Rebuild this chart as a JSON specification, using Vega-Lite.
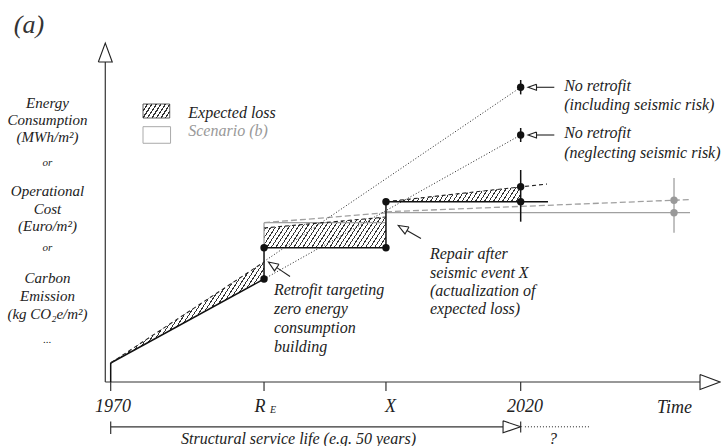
{
"$schema": "https://vega.github.io/schema/vega-lite/v6.json",
"width": 721, "height": 446, "padding": 0, "autosize": {"type": "none"},
"background": "white",
"config": {"view": {"stroke": null}},
"datasets": {
"lossA": [{"t":1970,"v":4.75,"v2":4.75},{"t":1988.7,"v":25.75,"v2":30.0}],
"lossB": [{"t":1988.7,"v":33.58,"v2":38.5},{"t":2003.57,"v":33.58,"v2":41.25}],
"lossC": [{"t":2003.57,"v":45.08,"v2":45.08},{"t":2020,"v":45.08,"v2":48.83}],
"legendHatch": [{"t":1973.94,"t2":1977.2,"v":66,"v2":69.5}],
"legendScenario": [{"t":1973.94,"t2":1977.3,"v":59.68,"v2":63.83}],
"axisLines": [
{"t":1969.34,"v":0,"t2":1969.34,"v2":80},
{"t":1969.34,"v":0,"t2":2041.87,"v2":0},
{"t":1970,"v":-2.25,"t2":1970,"v2":0},
{"t":1988.7,"v":-2.25,"t2":1988.7,"v2":0},
{"t":2003.57,"v":-2.25,"t2":2003.57,"v2":0},
{"t":2020,"v":-2.25,"t2":2020,"v2":0},
{"t":1970,"v":-11.2,"t2":2017.85,"v2":-11.2},
{"t":1970,"v":-9.9,"t2":1970,"v2":-13},
{"t":2020,"v":-9.9,"t2":2020,"v2":-12.6}
],
"curveSolid": [
{"t":1970,"v":0,"t2":1970,"v2":4.75},
{"t":1970,"v":4.75,"t2":1988.7,"v2":25.75},
{"t":1988.7,"v":25.75,"t2":1988.7,"v2":33.58},
{"t":1988.7,"v":33.58,"t2":2003.57,"v2":33.58},
{"t":2003.57,"v":33.58,"t2":2003.57,"v2":45.08},
{"t":2003.57,"v":45.08,"t2":2023.33,"v2":45.08},
{"t":2020,"v":40.08,"t2":2020,"v2":53},
{"t":2020,"v":71.9,"t2":2020,"v2":75.5},
{"t":2020,"v":60,"t2":2020,"v2":63.5}
],
"pointers": [
{"t":2021.93,"v":73.68,"t2":2024.1,"v2":73.68},
{"t":2021.93,"v":61.75,"t2":2024.1,"v2":61.75},
{"t":1990.26,"v":28.6,"t2":1991.87,"v2":26.375},
{"t":2006.13,"v":37.875,"t2":2007.84,"v2":35.875}
],
"curveDashed": [
{"t":1970,"v":4.75,"t2":1988.7,"v2":30.0},
{"t":1988.7,"v":38.5,"t2":2003.57,"v2":41.25},
{"t":2003.57,"v":45.08,"t2":2023.21,"v2":49.5}
],
"dotted": [
{"t":1988.7,"v":30.13,"t2":2020,"v2":73.68},
{"t":1988.7,"v":25.75,"t2":2020,"v2":61.75},
{"t":2020.52,"v":-11.2,"t2":2028.45,"v2":-11.2}
],
"scenarioSolid": [
{"t":2003.57,"v":42.33,"t2":2040.65,"v2":42.33},
{"t":2038.7,"v":37.33,"t2":2038.7,"v2":51},
{"t":1988.7,"v":33.58,"t2":1988.7,"v2":39.83},
{"t":1988.7,"v":39.83,"t2":2003.57,"v2":39.83}
],
"scenarioDashed": [
{"t":2003.57,"v":42.55,"t2":2040.65,"v2":45.6},
{"t":1988.7,"v":39.83,"t2":2003.57,"v2":42.3}
],
"arrowheads": [
{"id":"y","i":1,"t":1968.49,"v":80},{"id":"y","i":2,"t":1969.34,"v":84.75},{"id":"y","i":3,"t":1970.19,"v":80},{"id":"y","i":4,"t":1968.49,"v":80},
{"id":"x","i":1,"t":2041.87,"v":1.875},{"id":"x","i":2,"t":2044.31,"v":0},{"id":"x","i":3,"t":2041.87,"v":-1.875},{"id":"x","i":4,"t":2041.87,"v":1.875},
{"id":"s","i":1,"t":2017.85,"v":-9.7},{"id":"s","i":2,"t":2020,"v":-11.2},{"id":"s","i":3,"t":2017.85,"v":-12.7},{"id":"s","i":4,"t":2017.85,"v":-9.7},
{"id":"n1","i":1,"t":2021.93,"v":74.43},{"id":"n1","i":2,"t":2020.9,"v":73.68},{"id":"n1","i":3,"t":2021.93,"v":72.93},{"id":"n1","i":4,"t":2021.93,"v":74.43},
{"id":"n2","i":1,"t":2021.93,"v":62.5},{"id":"n2","i":2,"t":2020.9,"v":61.75},{"id":"n2","i":3,"t":2021.93,"v":61.0},{"id":"n2","i":4,"t":2021.93,"v":62.5},
{"id":"r","i":1,"t":1990.53,"v":29.43},{"id":"r","i":2,"t":1989.24,"v":30.0},{"id":"r","i":3,"t":1989.98,"v":27.77},{"id":"r","i":4,"t":1990.53,"v":29.43},
{"id":"p","i":1,"t":2006.38,"v":38.74},{"id":"p","i":2,"t":2005.07,"v":39.125},{"id":"p","i":3,"t":2005.89,"v":37.01},{"id":"p","i":4,"t":2006.38,"v":38.74}
],
"dots": [
{"t":1988.7,"v":25.75},{"t":1988.7,"v":33.58},{"t":2003.57,"v":33.58},{"t":2003.57,"v":45.08},
{"t":2020,"v":45.08},{"t":2020,"v":48.83},{"t":2020,"v":73.68},{"t":2020,"v":61.75}
],
"grayDots": [{"t":2038.7,"v":45.44},{"t":2038.7,"v":42.33}],
"tickLabels": [
{"t":1970.28,"v":-6.17,"label":"1970"},{"t":1988.21,"v":-6.17,"label":"R"},
{"t":2004.12,"v":-6.17,"label":"X"},{"t":2020.52,"v":-6.17,"label":"2020"},
{"t":2038.76,"v":-6.58,"label":"Time"}
],
"tickSub": [{"t":1989.79,"v":-7.0,"label":"E"}],
"yTitle": [
{"t":1962.29,"v":69.68,"label":"Energy"},{"t":1962.29,"v":65.5,"label":"Consumption"},{"t":1962.29,"v":61.33,"label":"(MWh/m²)"},
{"t":1962.29,"v":47.83,"label":"Operational"},{"t":1962.29,"v":43.25,"label":"Cost"},{"t":1962.29,"v":39,"label":"(Euro/m²)"},
{"t":1962.29,"v":25.93,"label":"Carbon"},{"t":1962.29,"v":21.5,"label":"Emission"},{"t":1962.29,"v":17,"label":"(kg CO₂e/m²)"}
],
"yTitleSmall": [
{"t":1962.29,"v":54.68,"label":"or"},{"t":1962.29,"v":33.43,"label":"or"},{"t":1962.29,"v":10.5,"label":"..."}
],
"notes": [
{"t":1989.91,"v":23,"label":"Retrofit targeting"},{"t":1989.91,"v":18.25,"label":"zero energy"},
{"t":1989.91,"v":13.5,"label":"consumption"},{"t":1989.91,"v":8.75,"label":"building"},
{"t":2008.94,"v":32,"label":"Repair after"},{"t":2008.94,"v":27.375,"label":"seismic event X"},
{"t":2008.94,"v":22.75,"label":"(actualization of"},{"t":2008.94,"v":18.25,"label":"expected loss)"},
{"t":2025.3,"v":74,"label":"No retrofit"},{"t":2025.3,"v":69.25,"label":"(including seismic risk)"},
{"t":2025.3,"v":62.18,"label":"No retrofit"},{"t":2025.3,"v":57.33,"label":"(neglecting seismic risk)"},
{"t":1979.46,"v":67.33,"label":"Expected loss"}
],
"scenarioLabel": [{"t":1979.46,"v":62.83,"label":"Scenario (b)"}],
"serviceLabel": [
{"t":1992.9,"v":-14.25,"label":"Structural service life (e.g. 50 years)"},
{"t":2023.94,"v":-14.25,"label":"?"}
],
"panelLabel": [{"t":1960.04,"v":89.25,"label":"(a)"}]
},
"encoding": {
"x": {"field":"t","type":"quantitative","scale":{"domain":[1956.5,2044.43],"nice":false,"zero":false},"axis":null},
"y": {"field":"v","type":"quantitative","scale":{"domain":[-16,95.5],"nice":false,"zero":false},"axis":null}
},
"layer": [
{"data":{"name":"lossA"},
 "mark":{"type":"area","stroke":null,"fill":{"gradient":"linear","x1":0,"y1":0,"x2":1.2402,"y2":0.5311,"stops":[
{"offset":0,"color":"#fff"},
{"offset":0.0175,"color":"#fff"},{"offset":0.0175,"color":"#333"},{"offset":0.0225,"color":"#333"},{"offset":0.0225,"color":"#fff"},
{"offset":0.0375,"color":"#fff"},{"offset":0.0375,"color":"#333"},{"offset":0.0425,"color":"#333"},{"offset":0.0425,"color":"#fff"},
{"offset":0.0575,"color":"#fff"},{"offset":0.0575,"color":"#333"},{"offset":0.0625,"color":"#333"},{"offset":0.0625,"color":"#fff"},
{"offset":0.0775,"color":"#fff"},{"offset":0.0775,"color":"#333"},{"offset":0.0825,"color":"#333"},{"offset":0.0825,"color":"#fff"},
{"offset":0.0975,"color":"#fff"},{"offset":0.0975,"color":"#333"},{"offset":0.1025,"color":"#333"},{"offset":0.1025,"color":"#fff"},
{"offset":0.1175,"color":"#fff"},{"offset":0.1175,"color":"#333"},{"offset":0.1225,"color":"#333"},{"offset":0.1225,"color":"#fff"},
{"offset":0.1375,"color":"#fff"},{"offset":0.1375,"color":"#333"},{"offset":0.1425,"color":"#333"},{"offset":0.1425,"color":"#fff"},
{"offset":0.1575,"color":"#fff"},{"offset":0.1575,"color":"#333"},{"offset":0.1625,"color":"#333"},{"offset":0.1625,"color":"#fff"},
{"offset":0.1775,"color":"#fff"},{"offset":0.1775,"color":"#333"},{"offset":0.1825,"color":"#333"},{"offset":0.1825,"color":"#fff"},
{"offset":0.1975,"color":"#fff"},{"offset":0.1975,"color":"#333"},{"offset":0.2025,"color":"#333"},{"offset":0.2025,"color":"#fff"},
{"offset":0.2175,"color":"#fff"},{"offset":0.2175,"color":"#333"},{"offset":0.2225,"color":"#333"},{"offset":0.2225,"color":"#fff"},
{"offset":0.2375,"color":"#fff"},{"offset":0.2375,"color":"#333"},{"offset":0.2425,"color":"#333"},{"offset":0.2425,"color":"#fff"},
{"offset":0.2575,"color":"#fff"},{"offset":0.2575,"color":"#333"},{"offset":0.2625,"color":"#333"},{"offset":0.2625,"color":"#fff"},
{"offset":0.2775,"color":"#fff"},{"offset":0.2775,"color":"#333"},{"offset":0.2825,"color":"#333"},{"offset":0.2825,"color":"#fff"},
{"offset":0.2975,"color":"#fff"},{"offset":0.2975,"color":"#333"},{"offset":0.3025,"color":"#333"},{"offset":0.3025,"color":"#fff"},
{"offset":0.3175,"color":"#fff"},{"offset":0.3175,"color":"#333"},{"offset":0.3225,"color":"#333"},{"offset":0.3225,"color":"#fff"},
{"offset":0.3375,"color":"#fff"},{"offset":0.3375,"color":"#333"},{"offset":0.3425,"color":"#333"},{"offset":0.3425,"color":"#fff"},
{"offset":0.3575,"color":"#fff"},{"offset":0.3575,"color":"#333"},{"offset":0.3625,"color":"#333"},{"offset":0.3625,"color":"#fff"},
{"offset":0.3775,"color":"#fff"},{"offset":0.3775,"color":"#333"},{"offset":0.3825,"color":"#333"},{"offset":0.3825,"color":"#fff"},
{"offset":0.3975,"color":"#fff"},{"offset":0.3975,"color":"#333"},{"offset":0.4025,"color":"#333"},{"offset":0.4025,"color":"#fff"},
{"offset":0.4175,"color":"#fff"},{"offset":0.4175,"color":"#333"},{"offset":0.4225,"color":"#333"},{"offset":0.4225,"color":"#fff"},
{"offset":0.4375,"color":"#fff"},{"offset":0.4375,"color":"#333"},{"offset":0.4425,"color":"#333"},{"offset":0.4425,"color":"#fff"},
{"offset":0.4575,"color":"#fff"},{"offset":0.4575,"color":"#333"},{"offset":0.4625,"color":"#333"},{"offset":0.4625,"color":"#fff"},
{"offset":0.4775,"color":"#fff"},{"offset":0.4775,"color":"#333"},{"offset":0.4825,"color":"#333"},{"offset":0.4825,"color":"#fff"},
{"offset":0.4975,"color":"#fff"},{"offset":0.4975,"color":"#333"},{"offset":0.5025,"color":"#333"},{"offset":0.5025,"color":"#fff"},
{"offset":0.5175,"color":"#fff"},{"offset":0.5175,"color":"#333"},{"offset":0.5225,"color":"#333"},{"offset":0.5225,"color":"#fff"},
{"offset":0.5375,"color":"#fff"},{"offset":0.5375,"color":"#333"},{"offset":0.5425,"color":"#333"},{"offset":0.5425,"color":"#fff"},
{"offset":0.5575,"color":"#fff"},{"offset":0.5575,"color":"#333"},{"offset":0.5625,"color":"#333"},{"offset":0.5625,"color":"#fff"},
{"offset":0.5775,"color":"#fff"},{"offset":0.5775,"color":"#333"},{"offset":0.5825,"color":"#333"},{"offset":0.5825,"color":"#fff"},
{"offset":0.5975,"color":"#fff"},{"offset":0.5975,"color":"#333"},{"offset":0.6025,"color":"#333"},{"offset":0.6025,"color":"#fff"},
{"offset":0.6175,"color":"#fff"},{"offset":0.6175,"color":"#333"},{"offset":0.6225,"color":"#333"},{"offset":0.6225,"color":"#fff"},
{"offset":0.6375,"color":"#fff"},{"offset":0.6375,"color":"#333"},{"offset":0.6425,"color":"#333"},{"offset":0.6425,"color":"#fff"},
{"offset":0.6575,"color":"#fff"},{"offset":0.6575,"color":"#333"},{"offset":0.6625,"color":"#333"},{"offset":0.6625,"color":"#fff"},
{"offset":0.6775,"color":"#fff"},{"offset":0.6775,"color":"#333"},{"offset":0.6825,"color":"#333"},{"offset":0.6825,"color":"#fff"},
{"offset":0.6975,"color":"#fff"},{"offset":0.6975,"color":"#333"},{"offset":0.7025,"color":"#333"},{"offset":0.7025,"color":"#fff"},
{"offset":0.7175,"color":"#fff"},{"offset":0.7175,"color":"#333"},{"offset":0.7225,"color":"#333"},{"offset":0.7225,"color":"#fff"},
{"offset":0.7375,"color":"#fff"},{"offset":0.7375,"color":"#333"},{"offset":0.7425,"color":"#333"},{"offset":0.7425,"color":"#fff"},
{"offset":0.7575,"color":"#fff"},{"offset":0.7575,"color":"#333"},{"offset":0.7625,"color":"#333"},{"offset":0.7625,"color":"#fff"},
{"offset":0.7775,"color":"#fff"},{"offset":0.7775,"color":"#333"},{"offset":0.7825,"color":"#333"},{"offset":0.7825,"color":"#fff"},
{"offset":0.7975,"color":"#fff"},{"offset":0.7975,"color":"#333"},{"offset":0.8025,"color":"#333"},{"offset":0.8025,"color":"#fff"},
{"offset":0.8175,"color":"#fff"},{"offset":0.8175,"color":"#333"},{"offset":0.8225,"color":"#333"},{"offset":0.8225,"color":"#fff"},
{"offset":0.8375,"color":"#fff"},{"offset":0.8375,"color":"#333"},{"offset":0.8425,"color":"#333"},{"offset":0.8425,"color":"#fff"},
{"offset":0.8575,"color":"#fff"},{"offset":0.8575,"color":"#333"},{"offset":0.8625,"color":"#333"},{"offset":0.8625,"color":"#fff"},
{"offset":0.8775,"color":"#fff"},{"offset":0.8775,"color":"#333"},{"offset":0.8825,"color":"#333"},{"offset":0.8825,"color":"#fff"},
{"offset":0.8975,"color":"#fff"},{"offset":0.8975,"color":"#333"},{"offset":0.9025,"color":"#333"},{"offset":0.9025,"color":"#fff"},
{"offset":0.9175,"color":"#fff"},{"offset":0.9175,"color":"#333"},{"offset":0.9225,"color":"#333"},{"offset":0.9225,"color":"#fff"},
{"offset":0.9375,"color":"#fff"},{"offset":0.9375,"color":"#333"},{"offset":0.9425,"color":"#333"},{"offset":0.9425,"color":"#fff"},
{"offset":0.9575,"color":"#fff"},{"offset":0.9575,"color":"#333"},{"offset":0.9625,"color":"#333"},{"offset":0.9625,"color":"#fff"},
{"offset":0.9775,"color":"#fff"},{"offset":0.9775,"color":"#333"},{"offset":0.9825,"color":"#333"},{"offset":0.9825,"color":"#fff"},
{"offset":1,"color":"#fff"}
]}},
 "encoding":{"y2":{"field":"v2"}}},
{"data":{"name":"lossB"},
 "mark":{"type":"area","stroke":null,"fill":{"gradient":"linear","x1":0,"y1":0,"x2":1.7962,"y2":0.2938,"stops":[
{"offset":0,"color":"#fff"},
{"offset":0.0175,"color":"#fff"},{"offset":0.0175,"color":"#333"},{"offset":0.0225,"color":"#333"},{"offset":0.0225,"color":"#fff"},
{"offset":0.0375,"color":"#fff"},{"offset":0.0375,"color":"#333"},{"offset":0.0425,"color":"#333"},{"offset":0.0425,"color":"#fff"},
{"offset":0.0575,"color":"#fff"},{"offset":0.0575,"color":"#333"},{"offset":0.0625,"color":"#333"},{"offset":0.0625,"color":"#fff"},
{"offset":0.0775,"color":"#fff"},{"offset":0.0775,"color":"#333"},{"offset":0.0825,"color":"#333"},{"offset":0.0825,"color":"#fff"},
{"offset":0.0975,"color":"#fff"},{"offset":0.0975,"color":"#333"},{"offset":0.1025,"color":"#333"},{"offset":0.1025,"color":"#fff"},
{"offset":0.1175,"color":"#fff"},{"offset":0.1175,"color":"#333"},{"offset":0.1225,"color":"#333"},{"offset":0.1225,"color":"#fff"},
{"offset":0.1375,"color":"#fff"},{"offset":0.1375,"color":"#333"},{"offset":0.1425,"color":"#333"},{"offset":0.1425,"color":"#fff"},
{"offset":0.1575,"color":"#fff"},{"offset":0.1575,"color":"#333"},{"offset":0.1625,"color":"#333"},{"offset":0.1625,"color":"#fff"},
{"offset":0.1775,"color":"#fff"},{"offset":0.1775,"color":"#333"},{"offset":0.1825,"color":"#333"},{"offset":0.1825,"color":"#fff"},
{"offset":0.1975,"color":"#fff"},{"offset":0.1975,"color":"#333"},{"offset":0.2025,"color":"#333"},{"offset":0.2025,"color":"#fff"},
{"offset":0.2175,"color":"#fff"},{"offset":0.2175,"color":"#333"},{"offset":0.2225,"color":"#333"},{"offset":0.2225,"color":"#fff"},
{"offset":0.2375,"color":"#fff"},{"offset":0.2375,"color":"#333"},{"offset":0.2425,"color":"#333"},{"offset":0.2425,"color":"#fff"},
{"offset":0.2575,"color":"#fff"},{"offset":0.2575,"color":"#333"},{"offset":0.2625,"color":"#333"},{"offset":0.2625,"color":"#fff"},
{"offset":0.2775,"color":"#fff"},{"offset":0.2775,"color":"#333"},{"offset":0.2825,"color":"#333"},{"offset":0.2825,"color":"#fff"},
{"offset":0.2975,"color":"#fff"},{"offset":0.2975,"color":"#333"},{"offset":0.3025,"color":"#333"},{"offset":0.3025,"color":"#fff"},
{"offset":0.3175,"color":"#fff"},{"offset":0.3175,"color":"#333"},{"offset":0.3225,"color":"#333"},{"offset":0.3225,"color":"#fff"},
{"offset":0.3375,"color":"#fff"},{"offset":0.3375,"color":"#333"},{"offset":0.3425,"color":"#333"},{"offset":0.3425,"color":"#fff"},
{"offset":0.3575,"color":"#fff"},{"offset":0.3575,"color":"#333"},{"offset":0.3625,"color":"#333"},{"offset":0.3625,"color":"#fff"},
{"offset":0.3775,"color":"#fff"},{"offset":0.3775,"color":"#333"},{"offset":0.3825,"color":"#333"},{"offset":0.3825,"color":"#fff"},
{"offset":0.3975,"color":"#fff"},{"offset":0.3975,"color":"#333"},{"offset":0.4025,"color":"#333"},{"offset":0.4025,"color":"#fff"},
{"offset":0.4175,"color":"#fff"},{"offset":0.4175,"color":"#333"},{"offset":0.4225,"color":"#333"},{"offset":0.4225,"color":"#fff"},
{"offset":0.4375,"color":"#fff"},{"offset":0.4375,"color":"#333"},{"offset":0.4425,"color":"#333"},{"offset":0.4425,"color":"#fff"},
{"offset":0.4575,"color":"#fff"},{"offset":0.4575,"color":"#333"},{"offset":0.4625,"color":"#333"},{"offset":0.4625,"color":"#fff"},
{"offset":0.4775,"color":"#fff"},{"offset":0.4775,"color":"#333"},{"offset":0.4825,"color":"#333"},{"offset":0.4825,"color":"#fff"},
{"offset":0.4975,"color":"#fff"},{"offset":0.4975,"color":"#333"},{"offset":0.5025,"color":"#333"},{"offset":0.5025,"color":"#fff"},
{"offset":0.5175,"color":"#fff"},{"offset":0.5175,"color":"#333"},{"offset":0.5225,"color":"#333"},{"offset":0.5225,"color":"#fff"},
{"offset":0.5375,"color":"#fff"},{"offset":0.5375,"color":"#333"},{"offset":0.5425,"color":"#333"},{"offset":0.5425,"color":"#fff"},
{"offset":0.5575,"color":"#fff"},{"offset":0.5575,"color":"#333"},{"offset":0.5625,"color":"#333"},{"offset":0.5625,"color":"#fff"},
{"offset":0.5775,"color":"#fff"},{"offset":0.5775,"color":"#333"},{"offset":0.5825,"color":"#333"},{"offset":0.5825,"color":"#fff"},
{"offset":0.5975,"color":"#fff"},{"offset":0.5975,"color":"#333"},{"offset":0.6025,"color":"#333"},{"offset":0.6025,"color":"#fff"},
{"offset":0.6175,"color":"#fff"},{"offset":0.6175,"color":"#333"},{"offset":0.6225,"color":"#333"},{"offset":0.6225,"color":"#fff"},
{"offset":0.6375,"color":"#fff"},{"offset":0.6375,"color":"#333"},{"offset":0.6425,"color":"#333"},{"offset":0.6425,"color":"#fff"},
{"offset":0.6575,"color":"#fff"},{"offset":0.6575,"color":"#333"},{"offset":0.6625,"color":"#333"},{"offset":0.6625,"color":"#fff"},
{"offset":0.6775,"color":"#fff"},{"offset":0.6775,"color":"#333"},{"offset":0.6825,"color":"#333"},{"offset":0.6825,"color":"#fff"},
{"offset":0.6975,"color":"#fff"},{"offset":0.6975,"color":"#333"},{"offset":0.7025,"color":"#333"},{"offset":0.7025,"color":"#fff"},
{"offset":1,"color":"#fff"}
]}},
 "encoding":{"y2":{"field":"v2"}}},
{"data":{"name":"lossC"},
 "mark":{"type":"area","stroke":null,"fill":{"gradient":"linear","x1":0,"y1":0,"x2":1.6617,"y2":0.1203,"stops":[
{"offset":0,"color":"#fff"},
{"offset":0.0175,"color":"#fff"},{"offset":0.0175,"color":"#333"},{"offset":0.0225,"color":"#333"},{"offset":0.0225,"color":"#fff"},
{"offset":0.0375,"color":"#fff"},{"offset":0.0375,"color":"#333"},{"offset":0.0425,"color":"#333"},{"offset":0.0425,"color":"#fff"},
{"offset":0.0575,"color":"#fff"},{"offset":0.0575,"color":"#333"},{"offset":0.0625,"color":"#333"},{"offset":0.0625,"color":"#fff"},
{"offset":0.0775,"color":"#fff"},{"offset":0.0775,"color":"#333"},{"offset":0.0825,"color":"#333"},{"offset":0.0825,"color":"#fff"},
{"offset":0.0975,"color":"#fff"},{"offset":0.0975,"color":"#333"},{"offset":0.1025,"color":"#333"},{"offset":0.1025,"color":"#fff"},
{"offset":0.1175,"color":"#fff"},{"offset":0.1175,"color":"#333"},{"offset":0.1225,"color":"#333"},{"offset":0.1225,"color":"#fff"},
{"offset":0.1375,"color":"#fff"},{"offset":0.1375,"color":"#333"},{"offset":0.1425,"color":"#333"},{"offset":0.1425,"color":"#fff"},
{"offset":0.1575,"color":"#fff"},{"offset":0.1575,"color":"#333"},{"offset":0.1625,"color":"#333"},{"offset":0.1625,"color":"#fff"},
{"offset":0.1775,"color":"#fff"},{"offset":0.1775,"color":"#333"},{"offset":0.1825,"color":"#333"},{"offset":0.1825,"color":"#fff"},
{"offset":0.1975,"color":"#fff"},{"offset":0.1975,"color":"#333"},{"offset":0.2025,"color":"#333"},{"offset":0.2025,"color":"#fff"},
{"offset":0.2175,"color":"#fff"},{"offset":0.2175,"color":"#333"},{"offset":0.2225,"color":"#333"},{"offset":0.2225,"color":"#fff"},
{"offset":0.2375,"color":"#fff"},{"offset":0.2375,"color":"#333"},{"offset":0.2425,"color":"#333"},{"offset":0.2425,"color":"#fff"},
{"offset":0.2575,"color":"#fff"},{"offset":0.2575,"color":"#333"},{"offset":0.2625,"color":"#333"},{"offset":0.2625,"color":"#fff"},
{"offset":0.2775,"color":"#fff"},{"offset":0.2775,"color":"#333"},{"offset":0.2825,"color":"#333"},{"offset":0.2825,"color":"#fff"},
{"offset":0.2975,"color":"#fff"},{"offset":0.2975,"color":"#333"},{"offset":0.3025,"color":"#333"},{"offset":0.3025,"color":"#fff"},
{"offset":0.3175,"color":"#fff"},{"offset":0.3175,"color":"#333"},{"offset":0.3225,"color":"#333"},{"offset":0.3225,"color":"#fff"},
{"offset":0.3375,"color":"#fff"},{"offset":0.3375,"color":"#333"},{"offset":0.3425,"color":"#333"},{"offset":0.3425,"color":"#fff"},
{"offset":0.3575,"color":"#fff"},{"offset":0.3575,"color":"#333"},{"offset":0.3625,"color":"#333"},{"offset":0.3625,"color":"#fff"},
{"offset":0.3775,"color":"#fff"},{"offset":0.3775,"color":"#333"},{"offset":0.3825,"color":"#333"},{"offset":0.3825,"color":"#fff"},
{"offset":0.3975,"color":"#fff"},{"offset":0.3975,"color":"#333"},{"offset":0.4025,"color":"#333"},{"offset":0.4025,"color":"#fff"},
{"offset":0.4175,"color":"#fff"},{"offset":0.4175,"color":"#333"},{"offset":0.4225,"color":"#333"},{"offset":0.4225,"color":"#fff"},
{"offset":0.4375,"color":"#fff"},{"offset":0.4375,"color":"#333"},{"offset":0.4425,"color":"#333"},{"offset":0.4425,"color":"#fff"},
{"offset":0.4575,"color":"#fff"},{"offset":0.4575,"color":"#333"},{"offset":0.4625,"color":"#333"},{"offset":0.4625,"color":"#fff"},
{"offset":0.4775,"color":"#fff"},{"offset":0.4775,"color":"#333"},{"offset":0.4825,"color":"#333"},{"offset":0.4825,"color":"#fff"},
{"offset":0.4975,"color":"#fff"},{"offset":0.4975,"color":"#333"},{"offset":0.5025,"color":"#333"},{"offset":0.5025,"color":"#fff"},
{"offset":0.5175,"color":"#fff"},{"offset":0.5175,"color":"#333"},{"offset":0.5225,"color":"#333"},{"offset":0.5225,"color":"#fff"},
{"offset":0.5375,"color":"#fff"},{"offset":0.5375,"color":"#333"},{"offset":0.5425,"color":"#333"},{"offset":0.5425,"color":"#fff"},
{"offset":0.5575,"color":"#fff"},{"offset":0.5575,"color":"#333"},{"offset":0.5625,"color":"#333"},{"offset":0.5625,"color":"#fff"},
{"offset":0.5775,"color":"#fff"},{"offset":0.5775,"color":"#333"},{"offset":0.5825,"color":"#333"},{"offset":0.5825,"color":"#fff"},
{"offset":0.5975,"color":"#fff"},{"offset":0.5975,"color":"#333"},{"offset":0.6025,"color":"#333"},{"offset":0.6025,"color":"#fff"},
{"offset":0.6175,"color":"#fff"},{"offset":0.6175,"color":"#333"},{"offset":0.6225,"color":"#333"},{"offset":0.6225,"color":"#fff"},
{"offset":0.6375,"color":"#fff"},{"offset":0.6375,"color":"#333"},{"offset":0.6425,"color":"#333"},{"offset":0.6425,"color":"#fff"},
{"offset":0.6575,"color":"#fff"},{"offset":0.6575,"color":"#333"},{"offset":0.6625,"color":"#333"},{"offset":0.6625,"color":"#fff"},
{"offset":0.6775,"color":"#fff"},{"offset":0.6775,"color":"#333"},{"offset":0.6825,"color":"#333"},{"offset":0.6825,"color":"#fff"},
{"offset":0.6975,"color":"#fff"},{"offset":0.6975,"color":"#333"},{"offset":0.7025,"color":"#333"},{"offset":0.7025,"color":"#fff"},
{"offset":1,"color":"#fff"}
]}},
 "encoding":{"y2":{"field":"v2"}}},
{"data":{"name":"legendHatch"},
 "mark":{"type":"rect","stroke":"#333","strokeWidth":0.8,"fill":{"gradient":"linear","x1":0,"y1":0,"x2":1.208,"y2":0.4117,"stops":[
{"offset":0,"color":"#333"},{"offset":0.02,"color":"#333"},{"offset":0.02,"color":"#fff"},
{"offset":0.105,"color":"#fff"},{"offset":0.105,"color":"#333"},{"offset":0.145,"color":"#333"},{"offset":0.145,"color":"#fff"},
{"offset":0.23,"color":"#fff"},{"offset":0.23,"color":"#333"},{"offset":0.27,"color":"#333"},{"offset":0.27,"color":"#fff"},
{"offset":0.355,"color":"#fff"},{"offset":0.355,"color":"#333"},{"offset":0.395,"color":"#333"},{"offset":0.395,"color":"#fff"},
{"offset":0.48,"color":"#fff"},{"offset":0.48,"color":"#333"},{"offset":0.52,"color":"#333"},{"offset":0.52,"color":"#fff"},
{"offset":0.605,"color":"#fff"},{"offset":0.605,"color":"#333"},{"offset":0.645,"color":"#333"},{"offset":0.645,"color":"#fff"},
{"offset":0.73,"color":"#fff"},{"offset":0.73,"color":"#333"},{"offset":0.77,"color":"#333"},{"offset":0.77,"color":"#fff"},
{"offset":0.855,"color":"#fff"},{"offset":0.855,"color":"#333"},{"offset":0.895,"color":"#333"},{"offset":0.895,"color":"#fff"},
{"offset":0.98,"color":"#fff"},{"offset":0.98,"color":"#333"},{"offset":1,"color":"#333"}
]}},
 "encoding":{"x2":{"field":"t2"},"y2":{"field":"v2"}}},
{"data":{"name":"legendScenario"},
 "mark":{"type":"rect","fill":"#fff","stroke":"#aaa","strokeWidth":1},
 "encoding":{"x2":{"field":"t2"},"y2":{"field":"v2"}}},
{"data":{"name":"scenarioSolid"},
 "mark":{"type":"rule","color":"#a0a0a0","strokeWidth":1.3},
 "encoding":{"x2":{"field":"t2"},"y2":{"field":"v2"}}},
{"data":{"name":"scenarioDashed"},
 "mark":{"type":"rule","color":"#a0a0a0","strokeWidth":1.3,"strokeDash":[6,3]},
 "encoding":{"x2":{"field":"t2"},"y2":{"field":"v2"}}},
{"data":{"name":"axisLines"},
 "mark":{"type":"rule","color":"#333","strokeWidth":1.2},
 "encoding":{"x2":{"field":"t2"},"y2":{"field":"v2"}}},
{"data":{"name":"curveSolid"},
 "mark":{"type":"rule","color":"#111","strokeWidth":1.5},
 "encoding":{"x2":{"field":"t2"},"y2":{"field":"v2"}}},
{"data":{"name":"pointers"},
 "mark":{"type":"rule","color":"#222","strokeWidth":1.1},
 "encoding":{"x2":{"field":"t2"},"y2":{"field":"v2"}}},
{"data":{"name":"curveDashed"},
 "mark":{"type":"rule","color":"#222","strokeWidth":1.1,"strokeDash":[4,3]},
 "encoding":{"x2":{"field":"t2"},"y2":{"field":"v2"}}},
{"data":{"name":"dotted"},
 "mark":{"type":"rule","color":"#222","strokeWidth":1,"strokeDash":[1,2]},
 "encoding":{"x2":{"field":"t2"},"y2":{"field":"v2"}}},
{"data":{"name":"arrowheads"},
 "mark":{"type":"line","color":"#222","strokeWidth":1.1,"strokeJoin":"miter"},
 "encoding":{"detail":{"field":"id"},"order":{"field":"i","type":"quantitative"}}},
{"data":{"name":"dots"},
 "mark":{"type":"circle","color":"#111","opacity":1,"size":55}},
{"data":{"name":"grayDots"},
 "mark":{"type":"circle","color":"#999","opacity":1,"size":55}},
{"data":{"name":"tickLabels"},
 "mark":{"type":"text","font":"Liberation Serif","fontStyle":"italic","fontSize":18,"align":"center","baseline":"middle","color":"#222"},
 "encoding":{"text":{"field":"label"}}},
{"data":{"name":"tickSub"},
 "mark":{"type":"text","font":"Liberation Serif","fontStyle":"italic","fontSize":10,"align":"center","baseline":"middle","color":"#222"},
 "encoding":{"text":{"field":"label"}}},
{"data":{"name":"yTitle"},
 "mark":{"type":"text","font":"Liberation Serif","fontStyle":"italic","fontSize":15,"align":"center","baseline":"middle","color":"#222"},
 "encoding":{"text":{"field":"label"}}},
{"data":{"name":"yTitleSmall"},
 "mark":{"type":"text","font":"Liberation Serif","fontStyle":"italic","fontSize":11,"align":"center","baseline":"middle","color":"#222"},
 "encoding":{"text":{"field":"label"}}},
{"data":{"name":"notes"},
 "mark":{"type":"text","font":"Liberation Serif","fontStyle":"italic","fontSize":16,"align":"left","baseline":"middle","color":"#222"},
 "encoding":{"text":{"field":"label"}}},
{"data":{"name":"scenarioLabel"},
 "mark":{"type":"text","font":"Liberation Serif","fontStyle":"italic","fontSize":16,"align":"left","baseline":"middle","color":"#999"},
 "encoding":{"text":{"field":"label"}}},
{"data":{"name":"serviceLabel"},
 "mark":{"type":"text","font":"Liberation Serif","fontStyle":"italic","fontSize":16,"align":"center","baseline":"middle","color":"#222"},
 "encoding":{"text":{"field":"label"}}},
{"data":{"name":"panelLabel"},
 "mark":{"type":"text","font":"Liberation Serif","fontStyle":"italic","fontSize":26,"align":"center","baseline":"middle","color":"#333"},
 "encoding":{"text":{"field":"label"}}}
]
}
